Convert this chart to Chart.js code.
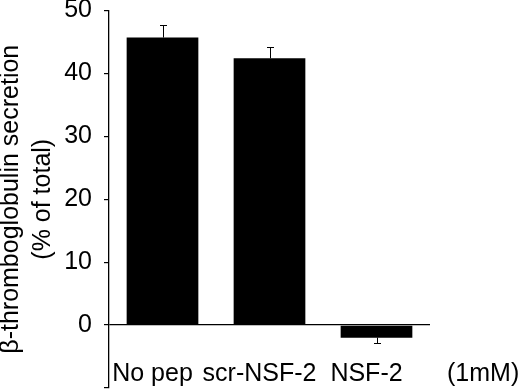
<!DOCTYPE html>
<html>
<head>
<meta charset="utf-8">
<script src="https://cdn.jsdelivr.net/npm/chart.js@4.4.0/dist/chart.umd.min.js"></script>
<style>
html, body { margin: 0; padding: 0; background: #fff; }
#wrap { width: 520px; height: 392px; }
</style>
</head>
<body>
<div id="wrap"><canvas id="secrecaoChart"></canvas></div>
<script>
// dados
const categorias = ['No pep', 'scr-NSF-2', 'NSF-2'];
const secrecao = [45.7, 42.4, -2.0];
const erros = [2.0, 1.8, 0.9];
const ticksY = [-10, 0, 10, 20, 30, 40, 50];
const tituloY = ['β-thromboglobulin secretion', '(% of total)'];
const unidade = '(1mM)';

const fonte = '"Liberation Sans", Arial, Helvetica, sans-serif';
const tamRotulo = 25;
const paddingRotulo = -1; // com mirror, os rótulos sobem para dentro da área

// barras de erro (só para fora do zero)
const barrasErro = {
    id: 'barrasErro',
    afterDatasetsDraw(chart) {
        const ctx = chart.ctx;
        const y = chart.scales.y;
        const meta = chart.getDatasetMeta(0);
        ctx.save();
        ctx.strokeStyle = '#000';
        ctx.lineWidth = 1;
        meta.data.forEach((bar, i) => {
            const v = secrecao[i];
            const fim = v >= 0 ? v + erros[i] : v - erros[i];
            const x = Math.round(bar.x) + 0.5;
            const y0 = y.getPixelForValue(v);
            const y1 = Math.round(y.getPixelForValue(fim)) + 0.5;
            ctx.beginPath();
            ctx.moveTo(x, y0);
            ctx.lineTo(x, y1);
            ctx.moveTo(x - 3.5, y1);
            ctx.lineTo(x + 3.5, y1);
            ctx.stroke();
        });
        ctx.restore();
    }
};

// texto "(1mM)" à direita dos rótulos
const textoUnidade = {
    id: 'textoUnidade',
    afterDraw(chart) {
        const ctx = chart.ctx;
        const xs = chart.scales.x;
        const yTexto = xs.top - paddingRotulo - tamRotulo * 1.2 / 2;
        ctx.save();
        ctx.fillStyle = '#000';
        ctx.font = tamRotulo + 'px ' + fonte;
        ctx.textAlign = 'left';
        ctx.textBaseline = 'middle';
        ctx.fillText(unidade, chart.chartArea.right + 17, yTexto);
        ctx.restore();
    }
};

const ctx = document.getElementById('secrecaoChart').getContext('2d');
new Chart(ctx, {
    type: 'bar',
    data: {
        labels: categorias,
        datasets: [{
            data: secrecao,
            backgroundColor: '#000',
            borderWidth: 0,
            barPercentage: 0.67,
            categoryPercentage: 1
        }]
    },
    plugins: [barrasErro, textoUnidade],
    options: {
        responsive: true,
        maintainAspectRatio: false,
        animation: false,
        layout: { padding: { left: 0, right: 90, top: 0, bottom: 0 } },
        plugins: {
            legend: { display: false },
            tooltip: { enabled: false }
        },
        scales: {
            x: {
                position: 'bottom',
                border: { display: false },
                grid: { display: false, drawTicks: false },
                ticks: {
                    color: '#000',
                    font: { family: fonte, size: tamRotulo },
                    padding: paddingRotulo,
                    mirror: true,
                    labelOffset: -10,
                    maxRotation: 0,
                    autoSkip: false
                },
                afterFit(scale) {
                    scale.height = 4;
                    scale.paddingLeft = 0;
                    scale.paddingRight = 0;
                }
            },
            y: {
                min: -10,
                max: 50,
                afterBuildTicks(scale) {
                    scale.ticks = ticksY.map(v => ({ value: v }));
                },
                afterFit(scale) {
                    scale.width = 109;
                    scale.paddingTop = 10.5;
                    scale.paddingBottom = 0;
                },
                border: { display: true, color: '#000', width: 1.3 },
                grid: {
                    drawTicks: true,
                    tickLength: 5,
                    tickColor: '#000',
                    lineWidth: 1.2,
                    color: c => (c.tick && c.tick.value === 0) ? '#000' : 'rgba(0,0,0,0)'
                },
                ticks: {
                    color: '#000',
                    font: { family: fonte, size: 25 },
                    padding: 12,
                    callback: v => (v === -10 ? '' : v)
                },
                title: {
                    display: true,
                    text: tituloY,
                    color: '#000',
                    font: { family: fonte, size: 25, lineHeight: 1.28 },
                    padding: { top: -5, bottom: 0 }
                }
            }
        }
    }
});
</script>
</body>
</html>
